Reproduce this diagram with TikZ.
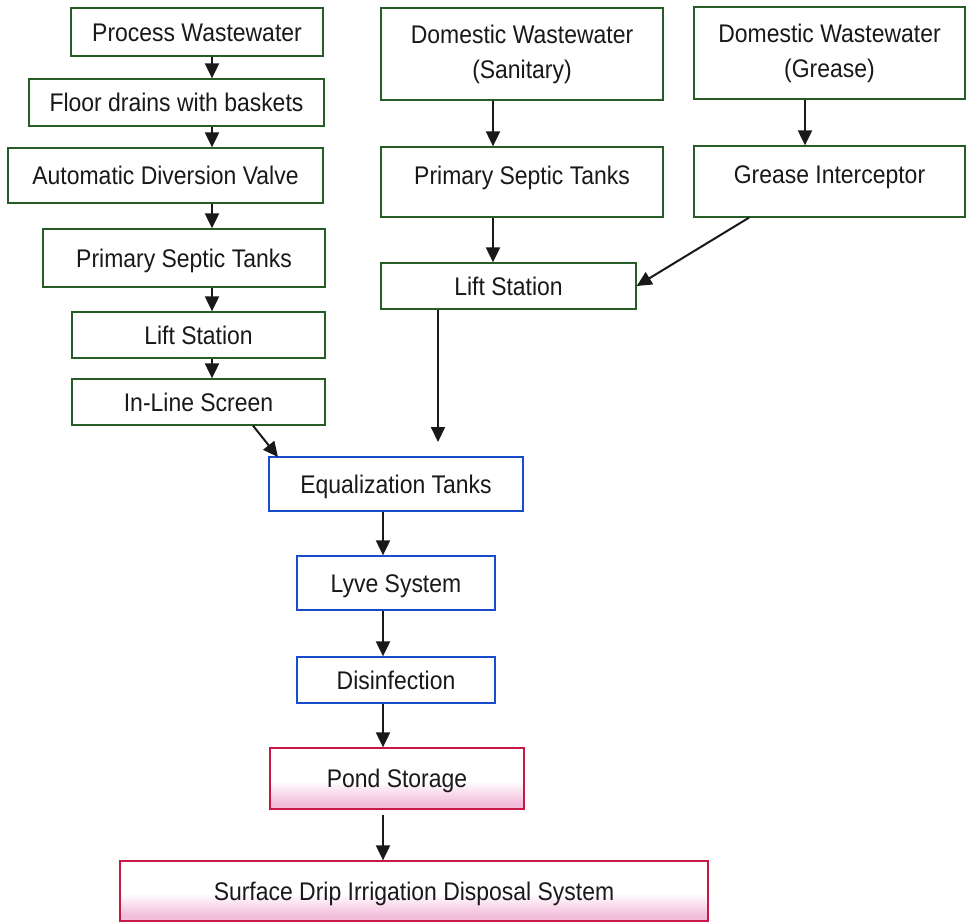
\documentclass[tikz,border=0pt]{standalone}
\usepackage{fontspec}
\setmainfont{Liberation Sans}[FakeStretch=0.9]
\usetikzlibrary{arrows.meta}
\definecolor{gbord}{RGB}{38,92,38}
\definecolor{bbord}{RGB}{25,75,205}
\definecolor{rbord}{RGB}{200,25,70}
\definecolor{pinkc}{RGB}{243,190,220}
\definecolor{txtc}{RGB}{25,25,25}
\pgfdeclareverticalshading{pinkfade}{100bp}{color(0bp)=(pinkc); color(25bp)=(pinkc); color(30bp)=(pinkc); color(48bp)=(white); color(75bp)=(white); color(100bp)=(white)}
\tikzset{
  box/.style={draw, fill=white, line width=1.3pt, inner sep=0pt, text=txtc,
    font=\fontsize{25.5pt}{35pt}\selectfont, align=center},
  one/.style={text height=18pt, text depth=0pt},
  high/.style={text height=18pt, text depth=14pt},
  gbox/.style={box, draw=gbord},
  bbox/.style={box, draw=bbord},
  rbox/.style={box, draw=rbord, shading=pinkfade},
  arr/.style={line width=2pt, draw=black!90, -{Triangle[length=15pt,width=14pt]}},
}
\begin{document}
\begin{tikzpicture}[x=1pt,y=-1pt]
\useasboundingbox[fill=white] (0,0) rectangle (967,922);
% left column
\node[gbox,one,minimum width=252pt,minimum height=48pt] (pw) at (197,32) {Process Wastewater};
\node[gbox,one,minimum width=295pt,minimum height=47pt] (fd) at (176.5,102.5) {Floor drains with baskets};
\node[gbox,one,minimum width=315pt,minimum height=55pt] (adv) at (165.5,175.5) {Automatic Diversion Valve};
\node[gbox,one,minimum width=282pt,minimum height=58pt] (pst1) at (184,258) {Primary Septic Tanks};
\node[gbox,one,minimum width=253pt,minimum height=46pt] (ls1) at (198.5,335) {Lift Station};
\node[gbox,one,minimum width=253pt,minimum height=46pt] (ils) at (198.5,402) {In-Line Screen};
% right columns
\node[gbox,minimum width=282pt,minimum height=92pt] (dws) at (522,54) {Domestic Wastewater\\(Sanitary)};
\node[gbox,minimum width=271pt,minimum height=92pt] (dwg) at (829.5,53) {Domestic Wastewater\\(Grease)};
\node[gbox,high,minimum width=282pt,minimum height=70pt] (pst2) at (522,182) {Primary Septic Tanks};
\node[gbox,high,minimum width=271pt,minimum height=71pt] (gi) at (829.5,181.5) {Grease Interceptor};
\node[gbox,one,minimum width=255pt,minimum height=46pt] (ls2) at (508.5,286) {Lift Station};
% center column
\node[bbox,one,minimum width=254pt,minimum height=54pt] (eq) at (396,484) {Equalization Tanks};
\node[bbox,one,minimum width=198pt,minimum height=54pt] (lyve) at (396,583) {Lyve System};
\node[bbox,one,minimum width=198pt,minimum height=46pt] (dis) at (396,680) {Disinfection};
\node[rbox,one,minimum width=254pt,minimum height=61pt] (pond) at (397,778.5) {Pond Storage};
\node[rbox,one,minimum width=588pt,minimum height=60pt] (sd) at (414,891) {Surface Drip Irrigation Disposal System};
% helper coordinates
\coordinate (lx) at (212,0);
\coordinate (sx) at (493,0);
\coordinate (gx) at (805,0);
\coordinate (gs) at (749,0);
\coordinate (l2x) at (438,0);
\coordinate (eqin) at (438,442);
\coordinate (ilx) at (253,0);
\coordinate (eqtip) at (278,457);
\coordinate (cx) at (383,0);
% arrows left column
\draw[arr] (pw.south -| lx) -- (fd.north -| lx);
\draw[arr] (fd.south -| lx) -- (adv.north -| lx);
\draw[arr] (adv.south -| lx) -- (pst1.north -| lx);
\draw[arr] (pst1.south -| lx) -- (ls1.north -| lx);
\draw[arr] (ls1.south -| lx) -- (ils.north -| lx);
\draw[arr] (ils.south -| ilx) -- (eqtip);
% arrows right
\draw[arr] (dws.south -| sx) -- (pst2.north -| sx);
\draw[arr] (pst2.south -| sx) -- (ls2.north -| sx);
\draw[arr] (dwg.south -| gx) -- (gi.north -| gx);
\draw[arr] (gi.south -| gs) -- (ls2.east);
\draw[arr] (ls2.south -| l2x) -- (eqin);
% center arrows
\draw[arr] (eq.south -| cx) -- (lyve.north -| cx);
\draw[arr] (lyve.south -| cx) -- (dis.north -| cx);
\draw[arr] (dis.south -| cx) -- (pond.north -| cx);
\draw[arr] ([yshift=-5pt]pond.south -| cx) -- (sd.north -| cx);
\end{tikzpicture}
\end{document}
